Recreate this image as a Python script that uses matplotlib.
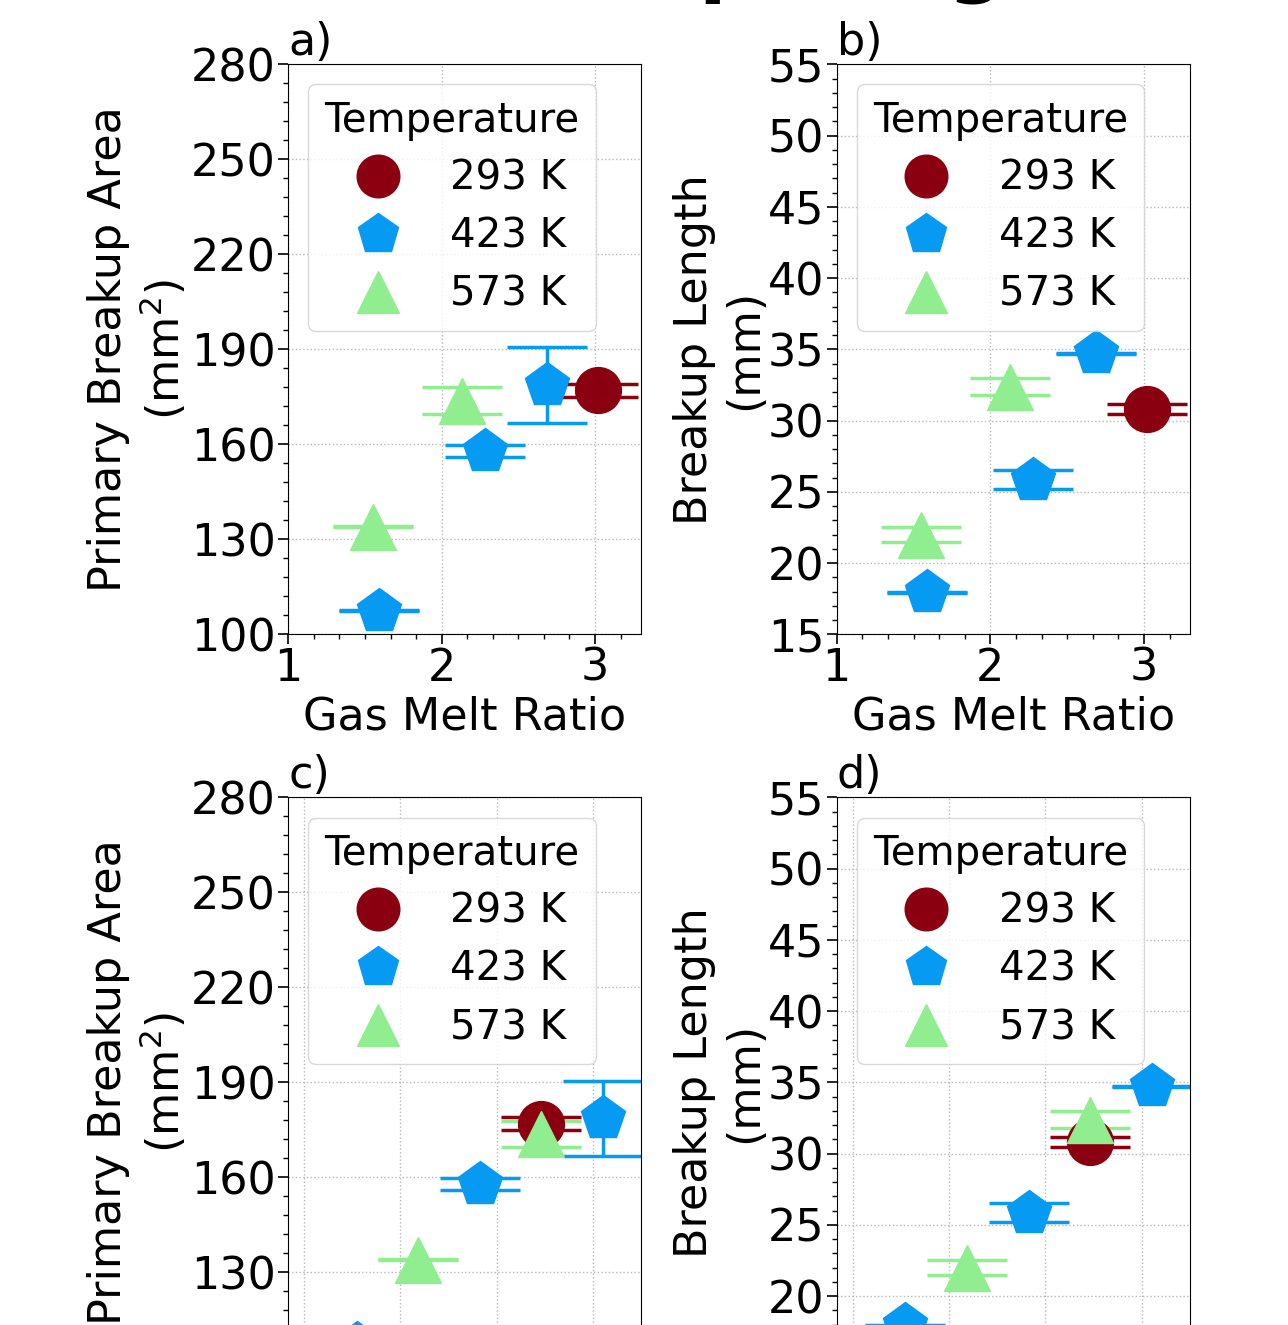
import matplotlib
matplotlib.use("Agg")
import matplotlib.pyplot as plt
from matplotlib.ticker import AutoMinorLocator, MultipleLocator

# ---- data -------------------------------------------------------------
temperatures = ["293 K", "423 K", "573 K"]
colors = ["#8B0010", "#069AF3", "#90EE90"]
markers = ["o", "p", "^"]

# gas melt ratio of each run, grouped by temperature
gmr_293 = [3.02]
gmr_423 = [1.59, 2.28, 2.69]
gmr_573 = [1.55, 2.13]

# gas flow setting of each run (lower panels)
flow_293 = [3.465]
flow_423 = [1.545, 2.827, 4.102]
flow_573 = [2.183, 3.465]

# primary breakup area (mm^2) and its uncertainty
area_293 = [177.0]
area_293_err = [2.05]
area_423 = [107.5, 157.9, 178.7]
area_423_err = [0.15, 1.8, 11.9]
area_573 = [134.0, 173.8]
area_573_err = [0.15, 4.15]

# breakup length (mm) and its uncertainty
length_293 = [30.84]
length_293_err = [0.35]
length_423 = [17.96, 25.86, 34.73]
length_423_err = [0.03, 0.65, 0.03]
length_573 = [22.0, 32.37]
length_573_err = [0.53, 0.6]

area_ticks = [100, 130, 160, 190, 220, 250, 280]
length_ticks = [15, 20, 25, 30, 35, 40, 45, 50, 55]

# ---- figure -----------------------------------------------------------
FS = 32
LEG_FS = 29
plt.rcParams["font.family"] = ["DejaVu Sans"]
plt.rcParams["font.size"] = FS

W, H = 1288, 1325
fig = plt.figure(figsize=(W / 100, H / 100), dpi=100)


def px_axes(left, top, right, bottom):
    return fig.add_axes([left / W, (H - bottom) / H, (right - left) / W, (bottom - top) / H])


ax_a = px_axes(288.3, 64.3, 641.0, 634.3)
ax_b = px_axes(836.7, 64.3, 1190.0, 634.3)
ax_c = px_axes(288.3, 797.4, 641.0, 1367.4)
ax_d = px_axes(836.7, 797.4, 1190.0, 1367.4)

upper_x = [gmr_293, gmr_423, gmr_573]
lower_x = [flow_293, flow_423, flow_573]
areas = [area_293, area_423, area_573]
area_errs = [area_293_err, area_423_err, area_573_err]
lengths = [length_293, length_423, length_573]
length_errs = [length_293_err, length_423_err, length_573_err]


def draw_panel(ax, xs, ys, errs, letter):
    handles = []
    for x, y, e, c, m, lab in zip(xs, ys, errs, colors, markers, temperatures):
        cont = ax.errorbar(x, y, yerr=e, fmt=m, color=c, ecolor=c, ms=33,
                           mec=c, mfc=c, elinewidth=2.5, capsize=29,
                           capthick=2.5, label=lab)
        handles.append(cont[0])
    ax.grid(True, which="major", linestyle=":", color="#b8b8b8", linewidth=1.0)
    ax.set_axisbelow(True)
    ax.tick_params(which="major", length=7, width=1.2, labelsize=FS, pad=2)
    ax.tick_params(which="minor", length=3.5, width=1.0)
    ax.set_title(letter, loc="left", fontsize=FS, pad=4)
    leg = ax.legend(handles=handles, labels=temperatures, title="Temperature",
                    loc="upper left", fontsize=LEG_FS, title_fontsize=LEG_FS,
                    markerscale=0.93, numpoints=1, labelspacing=0.45)
    leg.get_frame().set_edgecolor("#d0d0d0")
    return ax


draw_panel(ax_a, upper_x, areas, area_errs, "a)")
draw_panel(ax_b, upper_x, lengths, length_errs, "b)")
draw_panel(ax_c, lower_x, areas, area_errs, "c)")
draw_panel(ax_d, lower_x, lengths, length_errs, "d)")

for ax in (ax_a, ax_b):
    ax.set_xlim(1, 3.3)
    ax.set_xticks([1, 2, 3])
    ax.xaxis.set_minor_locator(MultipleLocator(1 / 6))
    ax.set_xlabel("Gas Melt Ratio", fontsize=FS, labelpad=4)

for ax in (ax_c, ax_d):
    ax.set_xlim(0.835, 4.5)
    ax.set_xticks([1, 2, 3, 4])
    ax.xaxis.set_minor_locator(MultipleLocator(1 / 6))
    ax.tick_params(axis="x", labelbottom=False)

for ax in (ax_a, ax_c):
    ax.set_ylim(100, 280)
    ax.set_yticks(area_ticks)
    ax.yaxis.set_minor_locator(AutoMinorLocator(5))
    ax.set_ylabel("Primary Breakup Area\n(mm$^2$)", fontsize=FS, labelpad=1)

for ax in (ax_b, ax_d):
    ax.set_ylim(15, 55)
    ax.set_yticks(length_ticks)
    ax.yaxis.set_minor_locator(AutoMinorLocator(5))
    ax.set_ylabel("Breakup Length\n(mm)", fontsize=FS, labelpad=1)

fig.text(378 / W, 1 + 13 / H, "Breakup Length", fontsize=58, fontweight="bold",
         ha="left", va="baseline")

fig.savefig("out.png", dpi=100)
